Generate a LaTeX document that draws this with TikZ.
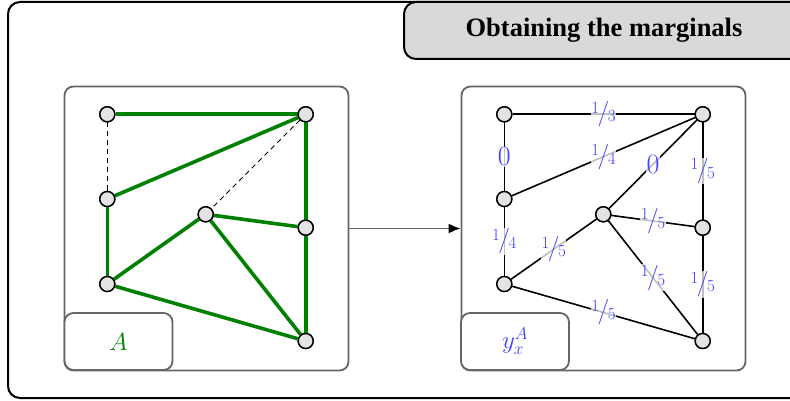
\documentclass[tikz,border=0pt]{standalone}
\usepackage{fontspec}
\newfontfamily\titlefont{Liberation Serif}
\usetikzlibrary{arrows.meta}
\definecolor{dkgreen}{rgb}{0,0.5,0}
\definecolor{lblue}{rgb}{0.25,0.25,1}
\definecolor{panelgray}{gray}{0.4}
\newcommand\myfr[2]{{\fontsize{17}{18}\selectfont\raisebox{7.5pt}{#1}}\kern-1.5pt{\fontsize{25.5}{26}\selectfont/}\kern-1.5pt{\fontsize{17}{18}\selectfont\raisebox{-1pt}{#2}}}
\tikzset{
  base/.style={font=\fontsize{24}{28}\selectfont},
  zerofont/.style={font=\fontsize{28}{30}\selectfont},
  vtx/.style={circle, draw=black, line width=1.4pt, fill=gray!22, minimum size=15pt, inner sep=0pt},
  panel/.style={draw=panelgray, line width=1.8pt, rounded corners=9pt, minimum width=284pt, minimum height=284pt, inner sep=0pt},
  lbox/.style={draw=panelgray, line width=1.8pt, rounded corners=9pt, fill=white, minimum width=108pt, minimum height=57pt, inner sep=0pt, base},
  gedge/.style={draw=dkgreen, line width=3.6pt},
  dedge/.style={draw=black, line width=1pt, dash pattern=on 5pt off 4pt},
  bedge/.style={draw=black, line width=1.6pt},
  lab/.style={fill=white, fill opacity=0.75, text opacity=1, text=lblue, inner sep=0.5pt},
}
\begin{document}
\begin{tikzpicture}[x=1pt,y=-1pt]
\clip[use as bounding box] (0,0) rectangle (790,401);
% outer frame
\draw[line width=2pt, rounded corners=12pt] (8,2) rectangle (812,398);
% title
\node[draw=black, line width=2pt, fill=gray!30, rounded corners=12pt, minimum width=400pt, minimum height=57pt, inner sep=0pt, font=\titlefont\bfseries\fontsize{26.5}{30}\selectfont] (title) at (604,30.5) {Obtaining the marginals};
% panels
\node[panel] (pL) at (206.5,228.5) {};
\node[panel] (pR) at (603.5,228.5) {};
\draw[draw=panelgray, line width=1.8pt, -{Latex[length=12pt,width=10pt,black]}] (pL.east) -- (pR.west);
% left graph nodes
\node[vtx] (a1) at (107.3,114.3) {};
\node[vtx] (a2) at (305.7,114.3) {};
\node[vtx] (a3) at (107.3,199) {};
\node[vtx] (a4) at (205.7,214.3) {};
\node[vtx] (a5) at (305.7,227.7) {};
\node[vtx] (a6) at (107.3,284) {};
\node[vtx] (a7) at (305.7,341) {};
% right graph nodes
\node[vtx] (b1) at (504.3,114.3) {};
\node[vtx] (b2) at (702.7,114.3) {};
\node[vtx] (b3) at (504.3,199) {};
\node[vtx] (b4) at (603.3,214.3) {};
\node[vtx] (b5) at (702.7,227.7) {};
\node[vtx] (b6) at (504.3,284) {};
\node[vtx] (b7) at (702.7,341) {};
% left edges
\draw[gedge] (a1) -- (a2);
\draw[dedge] (a1) -- (a3);
\draw[gedge] (a3) -- (a2);
\draw[dedge] (a2) -- (a4);
\draw[gedge] (a2) -- (a5);
\draw[gedge] (a3) -- (a6);
\draw[gedge] (a6) -- (a4);
\draw[gedge] (a4) -- (a5);
\draw[gedge] (a4) -- (a7);
\draw[gedge] (a6) -- (a7);
\draw[gedge] (a5) -- (a7);
% right edges
\draw[bedge] (b1) -- node[lab] {\myfr13} (b2);
\draw[bedge] (b1) -- node[lab, zerofont] {0} (b3);
\draw[bedge] (b3) -- node[lab] {\myfr14} (b2);
\draw[bedge] (b2) -- node[lab, zerofont] {0} (b4);
\draw[bedge] (b2) -- node[lab] {\myfr15} (b5);
\draw[bedge] (b3) -- node[lab] {\myfr14} (b6);
\draw[bedge] (b6) -- node[lab] {\myfr15} (b4);
\draw[bedge] (b4) -- node[lab] {\myfr15} (b5);
\draw[bedge] (b4) -- node[lab] {\myfr15} (b7);
\draw[bedge] (b6) -- node[lab] {\myfr15} (b7);
\draw[bedge] (b5) -- node[lab] {\myfr15} (b7);
% redraw vertices on top
\foreach \p in {{107.3,114.3},{305.7,114.3},{107.3,199},{205.7,214.3},{305.7,227.7},{107.3,284},{305.7,341},{504.3,114.3},{702.7,114.3},{504.3,199},{603.3,214.3},{702.7,227.7},{504.3,284},{702.7,341}}
  \node[vtx] at (\p) {};
% label boxes
\node[lbox, text=dkgreen] (la) at (118.5,341.5) {$A$};
\node[lbox, text=lblue] (lb) at (515,341.5) {$y_x^A$};
\end{tikzpicture}
\end{document}
